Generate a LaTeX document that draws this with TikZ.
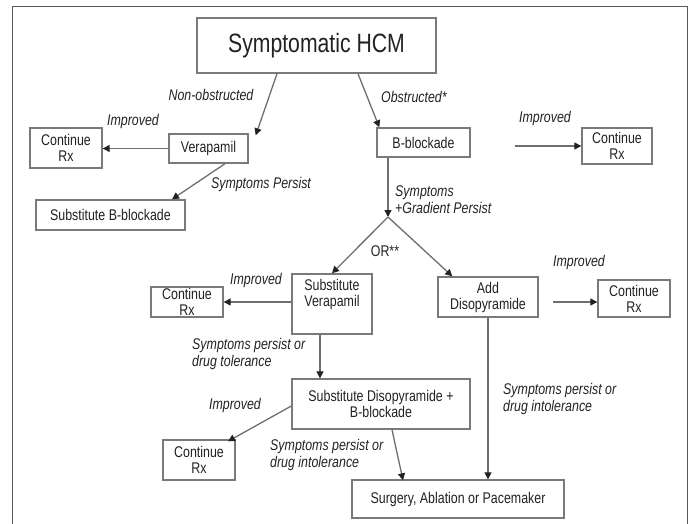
\documentclass[tikz,border=0pt]{standalone}
\usepackage{fontspec}
\setmainfont{Liberation Sans}[FakeStretch=0.8]
\usetikzlibrary{arrows.meta}
\definecolor{txt}{HTML}{222222}
\definecolor{ln}{HTML}{6E6E6E}
\definecolor{bx}{HTML}{7A7A7A}
\begin{document}
\begin{tikzpicture}[x=1pt,y=-1pt,
  box/.style={draw=bx,line width=1.4pt,fill=white,inner sep=0pt,align=center,
    text=txt,font=\fontsize{15.5}{16}\selectfont},
  lab/.style={text=txt,inner sep=0pt,font=\fontsize{15.5}{17}\selectfont\itshape},
  conn/.style={draw=ln,line width=1.3pt,-{Triangle[length=7pt,width=7pt,fill=txt,color=txt]}},
  plain/.style={draw=ln,line width=1.3pt}]
\useasboundingbox (0,0) rectangle (691,524);
% outer frame
\draw[draw=black!65,line width=1pt] (12,524) -- (12,7) -- (687,7) -- (687,524);
% nodes
\node[box,minimum width=239pt,minimum height=55pt,font=\fontsize{26.5}{28}\selectfont] (title) at (316.5,45.5) {Symptomatic HCM};
\node[box,minimum width=79pt,minimum height=29pt] (ver) at (208.5,148.5) {Verapamil};
\node[box,minimum width=72pt,minimum height=40pt] (crTL) at (66,148) {Continue\\Rx};
\node[box,minimum width=149pt,minimum height=30pt] (subB) at (110.5,215) {Substitute B-blockade};
\node[box,minimum width=93pt,minimum height=29pt] (bbl) at (423.5,142.5) {B-blockade};
\node[box,minimum width=70pt,minimum height=36pt] (crTR) at (617,146) {Continue\\Rx};
\coordinate (apex) at (388,217);
\coordinate (imp1) at (515,146);
\node[box,minimum width=80pt,minimum height=60pt] (subV) at (332,304) {Substitute\\Verapamil\\[6pt]};
\node[box,minimum width=100pt,minimum height=40pt] (addD) at (488,297) {Add\\Disopyramide};
\node[box,minimum width=72pt,minimum height=30pt] (crML) at (187,302) {Continue\\Rx};
\node[box,minimum width=72pt,minimum height=37pt] (crMR) at (634,298.5) {Continue\\Rx};
\coordinate (imp2) at (553,302);
\node[box,minimum width=178pt,minimum height=50pt] (subD) at (381,404) {Substitute Disopyramide +\\B-blockade};
\node[box,minimum width=72pt,minimum height=40pt] (crBL) at (199,460) {Continue\\Rx};
\node[box,minimum width=212pt,minimum height=38pt] (surg) at (458,499) {Surgery, Ablation or Pacemaker};
% connectors
\draw[conn] ([xshift=-39.5pt]title.south) -- ([xshift=7pt,yshift=-2pt]ver.north east);
\draw[conn] ([xshift=41.5pt]title.south) -- ([xshift=3pt]bbl.north west);
\draw[conn] (ver.west) -- (crTL.east |- ver.west);
\draw[conn] ([xshift=16.5pt]ver.south) -- ([xshift=61.5pt]subB.north);
\draw[conn] (imp1) -- (crTR.west);
\draw[conn] ([xshift=-35.5pt]bbl.south) -- (apex);
\draw[conn] (apex) -- (subV.north);
\draw[conn] (apex) -- ([xshift=15pt]addD.north west);
\draw[conn] (subV.west |- crML.east) -- (crML.east);
\draw[conn] (imp2) -- (crMR.west |- imp2);
\draw[conn] ([xshift=-12pt]subV.south) -- ([xshift=-61pt]subD.north);
\draw[conn] ([yshift=-2pt]subD.west) -- ([xshift=29pt,yshift=-2pt]crBL.north);
\draw[conn] ([xshift=11pt]subD.south) -- ([xshift=-55pt,yshift=-1pt]surg.north);
\draw[conn] (addD.south) -- (addD.south |- surg.north);
% labels
\node[lab] (l1) at (211,95) {Non-obstructed};
\node[lab] (l2) at (133,121) {Improved};
\node[lab] (l3) at (261,184) {Symptoms Persist};
\node[lab,anchor=west] (l4) at (381,97) {Obstructed*};
\node[lab] (l5) at (545,118) {Improved};
\node[lab,anchor=west,align=left] (l6) at (395,199.5) {Symptoms\\+Gradient Persist};
\node[lab,font=\fontsize{15.5}{17}\selectfont] (l7) at (385,251) {OR**};
\node[lab] (l8) at (256,280) {Improved};
\node[lab] (l9) at (579,262) {Improved};
\node[lab,anchor=west,align=left] (l10) at (192,353.5) {Symptoms persist or\\drug tolerance};
\node[lab] (l11) at (235,405) {Improved};
\node[lab,anchor=west,align=left] (l12) at (270,454.5) {Symptoms persist or\\drug intolerance};
\node[lab,anchor=west,align=left] (l13) at (503,398.5) {Symptoms persist or\\drug intolerance};
\end{tikzpicture}
\end{document}
